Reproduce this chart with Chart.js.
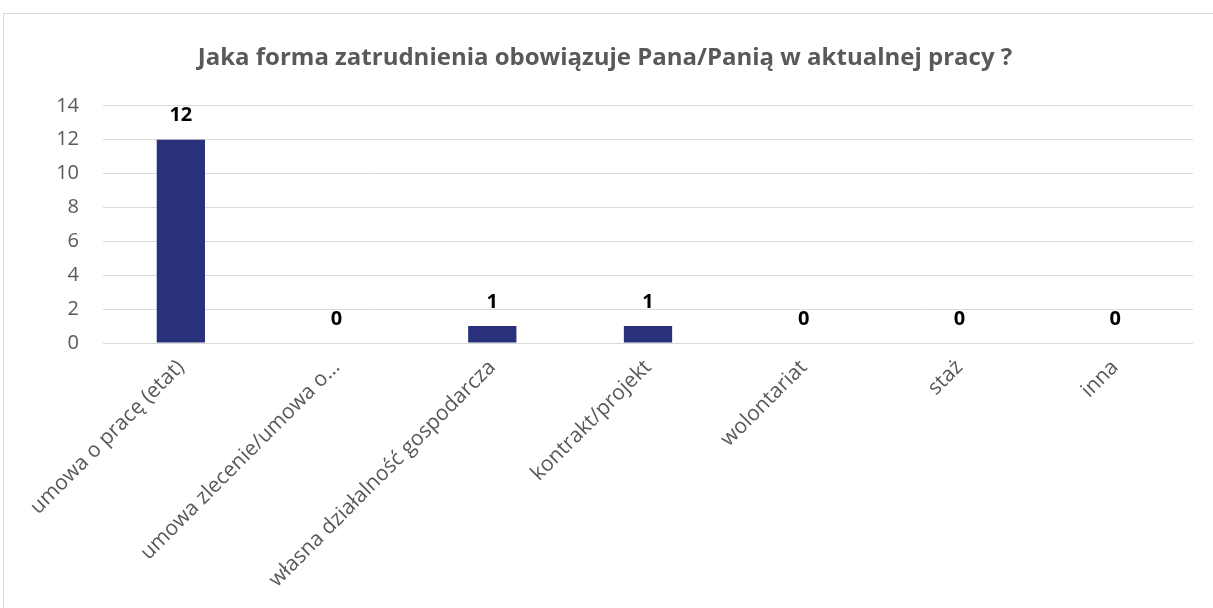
<!DOCTYPE html>
<html>
<head>
<meta charset="utf-8">
<script src="https://cdn.jsdelivr.net/npm/chart.js@4/dist/chart.umd.min.js"></script>
<style>
  html, body { margin: 0; padding: 0; background: #fff; }
  #wrap { position: relative; width: 1213px; height: 608px; overflow: hidden; }
  #frame { position: absolute; left: 3px; top: 13px; width: 1215px; height: 600px; border: 1px solid #d9d9d9; box-sizing: border-box; }
  canvas { position: absolute; left: 0; top: 0; }
</style>
</head>
<body>
<div id="wrap">
  <div id="frame"></div>
  <canvas id="c" width="1213" height="608"></canvas>
</div>
<script>
const titleText = "Jaka forma zatrudnienia obowiązuje Pana/Panią w aktualnej pracy ?";
const categories = [
  "umowa o pracę (etat)",
  "umowa zlecenie/umowa o…",
  "własna działalność gospodarcza",
  "kontrakt/projekt",
  "wolontariat",
  "staż",
  "inna"
];
const counts = [12, 0, 1, 1, 0, 0, 0];
const yTicks = [0, 2, 4, 6, 8, 10, 12, 14];

const valueLabels = {
  id: 'valueLabels',
  afterDatasetsDraw(chart) {
    const ctx = chart.ctx;
    const meta = chart.getDatasetMeta(0);
    ctx.save();
    ctx.font = "bold 20px 'Open Sans', sans-serif";
    ctx.fillStyle = "#000";
    ctx.textAlign = "center";
    ctx.textBaseline = "middle";
    meta.data.forEach((el, i) => {
      ctx.fillText(String(counts[i]), el.x, el.y - 24);
    });
    ctx.restore();
  }
};

new Chart(document.getElementById('c'), {
  type: 'bar',
  data: {
    labels: categories,
    datasets: [{
      data: counts,
      backgroundColor: '#29317c',
      barPercentage: 0.62,
      categoryPercentage: 0.5
    }]
  },
  options: {
    responsive: false,
    animation: false,
    layout: { padding: { left: 17, right: 20, top: 0, bottom: 0 } },
    plugins: {
      legend: { display: false },
      tooltip: { enabled: false },
      title: {
        display: true,
        text: titleText,
        color: '#595959',
        font: { family: "'Open Sans', sans-serif", size: 24, weight: 'bold' },
        padding: { top: 44, bottom: 33 }
      }
    },
    scales: {
      y: {
        min: 0, max: 14,
        afterBuildTicks(scale) { scale.ticks = yTicks.map(v => ({ value: v })); },
        afterFit(scale) { scale.width = 86; },
        ticks: {
          color: '#595959',
          padding: 24,
          font: { family: "'Open Sans', sans-serif", size: 20 }
        },
        grid: { color: '#d9d9d9', lineWidth: 1, drawTicks: false },
        border: { display: false }
      },
      x: {
        afterFit(scale) { scale.height = 265; },
        ticks: {
          color: '#595959',
          minRotation: 45,
          maxRotation: 45,
          autoSkip: false,
          padding: 12,
          font: { family: "'Open Sans', sans-serif", size: 21 }
        },
        grid: { display: false, drawTicks: false },
        border: { display: false }
      }
    }
  },
  plugins: [valueLabels]
});
</script>
</body>
</html>
